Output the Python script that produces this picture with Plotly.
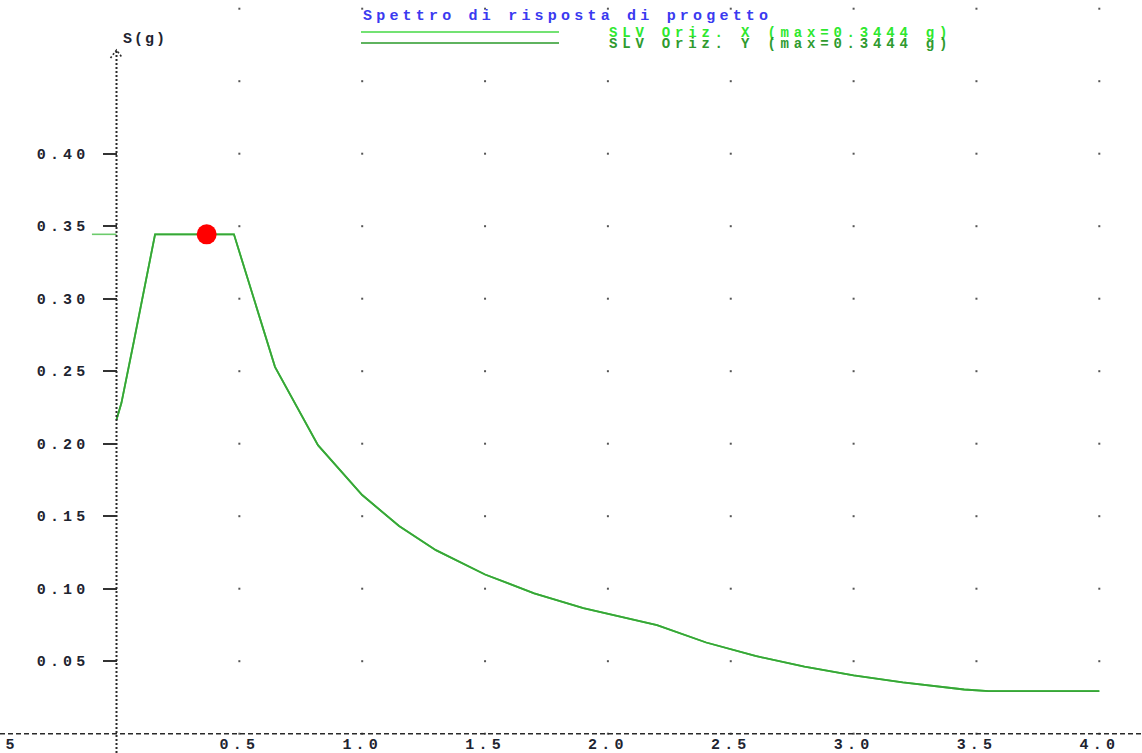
import plotly.graph_objects as go

# ---------------- data ----------------
period = [0.0, 0.02, 0.07, 0.11, 0.157, 0.478, 0.645, 0.82, 1.0,
          1.15, 1.3, 1.5, 1.7, 1.9, 2.2, 2.4, 2.6, 2.8, 3.0, 3.2, 3.45, 3.55, 4.0]
sa_slv_x = [0.2165, 0.228, 0.270, 0.304, 0.3444, 0.3444, 0.2530, 0.199,
            0.1646, 0.1432, 0.1266, 0.1098, 0.0968, 0.0866, 0.0748,
            0.0629, 0.0536, 0.0462, 0.0402, 0.0354, 0.0305, 0.0293, 0.0293]
sa_slv_y = [0.2165, 0.228, 0.270, 0.304, 0.3444, 0.3444, 0.2530, 0.199,
            0.1646, 0.1432, 0.1266, 0.1098, 0.0968, 0.0866, 0.0748,
            0.0629, 0.0536, 0.0462, 0.0402, 0.0354, 0.0305, 0.0293, 0.0293]
lead_period = [-0.1, 0.0]
lead_sa = [0.3444, 0.3444]
point_period = [0.367]
point_sa = [0.3444]

x_tick_vals = [0.5, 1.0, 1.5, 2.0, 2.5, 3.0, 3.5, 4.0]
x_tick_text = ["0.5", "1.0", "1.5", "2.0", "2.5", "3.0", "3.5", "4.0"]
x_clipped_tick = -0.5
x_clipped_text = "-0.5"
y_tick_vals = [0.05, 0.10, 0.15, 0.20, 0.25, 0.30, 0.35, 0.40]
y_tick_text = ["0.05", "0.10", "0.15", "0.20", "0.25", "0.30", "0.35", "0.40"]
grid_x = [0.5, 1.0, 1.5, 2.0, 2.5, 3.0, 3.5, 4.0]
grid_y = [0.0, 0.05, 0.10, 0.15, 0.20, 0.25, 0.30, 0.35, 0.40, 0.45, 0.50]

chart_title = "Spettro di risposta di progetto"
series_names = ["SLV Oriz. X (max=0.3444 g)", "SLV Oriz. Y (max=0.3444 g)"]
y_axis_title = "S(g)"
y_arrow_top = 0.4715

# ---------------- layout constants ----------------
W, H = 1142, 753
X_ZERO_PX, X_PX_PER_UNIT = 116.5, 245.7
Y_ZERO_PX, Y_PX_PER_UNIT = 733.7, 1450.0
xr = [-X_ZERO_PX / X_PX_PER_UNIT, (W - X_ZERO_PX) / X_PX_PER_UNIT]
yr = [-(H - Y_ZERO_PX) / Y_PX_PER_UNIT, Y_ZERO_PX / Y_PX_PER_UNIT]

FONT = "Liberation Mono"
FS = 15
LS = "letter-spacing:4.2px"
LEG_FS = 14
LEG_LS = "letter-spacing:4.8px"
TXT = "#1e2430"


def spaced(s, ls=LS):
    return '<span style="%s">%s</span>' % (ls, s)


fig = go.Figure()

# grid dots
gx, gy = [], []
for xv in grid_x:
    for yv in grid_y:
        gx.append(xv)
        gy.append(yv)
fig.add_trace(go.Scatter(x=gx, y=gy, mode="markers", showlegend=False,
                         hoverinfo="skip",
                         marker=dict(symbol="square", size=2, color="#555555",
                                     line=dict(width=0))))

# spectra
fig.add_trace(go.Scatter(x=lead_period, y=lead_sa, mode="lines", showlegend=False,
                         line=dict(color="#6ccb6c", width=1.6)))
fig.add_trace(go.Scatter(x=period, y=sa_slv_x, mode="lines", name=series_names[0],
                         showlegend=False, line=dict(color="#44d844", width=1.8)))
fig.add_trace(go.Scatter(x=period, y=sa_slv_y, mode="lines", name=series_names[1],
                         showlegend=False, line=dict(color="#38a438", width=1.8)))
fig.add_trace(go.Scatter(x=point_period, y=point_sa, mode="markers", showlegend=False,
                         marker=dict(size=20, color="#ff0000", line=dict(width=0))))

# axes drawn as shapes (dotted y axis with arrow, dashed x axis)
dx_arm = 6.0 / X_PX_PER_UNIT
dy_arm = 8.0 / Y_PX_PER_UNIT
fig.add_shape(type="line", xref="x", yref="y", x0=0, x1=0, y0=yr[0], y1=y_arrow_top,
              line=dict(color="#2a2a2a", width=2, dash="2px,2px"))
fig.add_shape(type="path", xref="x", yref="y",
              path="M %f,%f L 0,%f L %f,%f" % (-dx_arm, y_arrow_top - dy_arm, y_arrow_top,
                                                dx_arm, y_arrow_top - dy_arm),
              line=dict(color="#2a2a2a", width=1.6, dash="2px,2px"))
fig.add_shape(type="line", xref="paper", yref="y", x0=0, x1=1, y0=0, y1=0,
              line=dict(color="#2a2a2a", width=1.5, dash="5px,3px"))

# legend (custom)
leg_rows_px = [32, 43]
leg_line_colors = ["#44d844", "#2a9a2a"]
leg_text_colors = ["#2ee82e", "#2f9a2f"]
for i in range(2):
    yp = 1 - leg_rows_px[i] / H
    fig.add_shape(type="line", xref="paper", yref="paper", x0=361 / W, x1=559 / W,
                  y0=yp, y1=yp, line=dict(color=leg_line_colors[i], width=1.4))
    fig.add_annotation(xref="paper", yref="paper", x=607 / W, y=1 - (leg_rows_px[i] + 1) / H,
                       xanchor="left", yanchor="middle", showarrow=False,
                       text=spaced(series_names[i], LEG_LS),
                       font=dict(family=FONT, size=LEG_FS, color=leg_text_colors[i],
                                 weight="bold"))

# y axis title
fig.add_annotation(xref="paper", yref="paper", x=121 / W, y=1 - 40 / H,
                   xanchor="left", yanchor="middle", showarrow=False,
                   text=spaced(y_axis_title, "letter-spacing:2px"),
                   font=dict(family=FONT, size=15, color=TXT, weight="bold"))

# clipped -0.5 label at left edge (positioned via the x scale)
fig.add_annotation(xref="x", yref="y", x=xr[0], y=0, xanchor="center", yanchor="top",
                   xshift=(x_clipped_tick - xr[0]) * X_PX_PER_UNIT - 1.5, yshift=-1,
                   showarrow=False, text=spaced(x_clipped_text),
                   font=dict(family=FONT, size=FS, color=TXT, weight="bold"))

fig.update_layout(
    width=W, height=H,
    margin=dict(l=0, r=0, t=0, b=0, pad=0),
    paper_bgcolor="white", plot_bgcolor="white",
    showlegend=False,
    title=dict(text=spaced(chart_title), xref="paper", x=363 / W, xanchor="left",
               yref="container", y=1 - 15 / H, yanchor="middle",
               font=dict(family=FONT, size=FS, color="#3a3af0", weight="bold")),
    xaxis=dict(range=xr, showgrid=False, zeroline=False, showline=False,
               anchor="free", position=(0 - yr[0]) / (yr[1] - yr[0]),
               tickmode="array", tickvals=x_tick_vals,
               ticktext=[spaced(t) for t in x_tick_text],
               ticks="", ticklabelstandoff=-1,
               tickfont=dict(family=FONT, size=FS, color=TXT, weight="bold"),
               automargin=False, fixedrange=True),
    yaxis=dict(range=yr, showgrid=False, zeroline=False, showline=False,
               anchor="free", position=(0 - xr[0]) / (xr[1] - xr[0]),
               tickmode="array", tickvals=y_tick_vals,
               ticktext=[spaced(t) for t in y_tick_text],
               ticks="outside", ticklen=14, tickwidth=1.5, tickcolor="#333333",
               ticklabelstandoff=10,
               tickfont=dict(family=FONT, size=FS, color=TXT, weight="bold"),
               automargin=False, fixedrange=True),
)

fig.write_html("out.html", config={"displayModeBar": False},
               post_script="document.body.style.margin='0';document.body.style.overflow='hidden';")
